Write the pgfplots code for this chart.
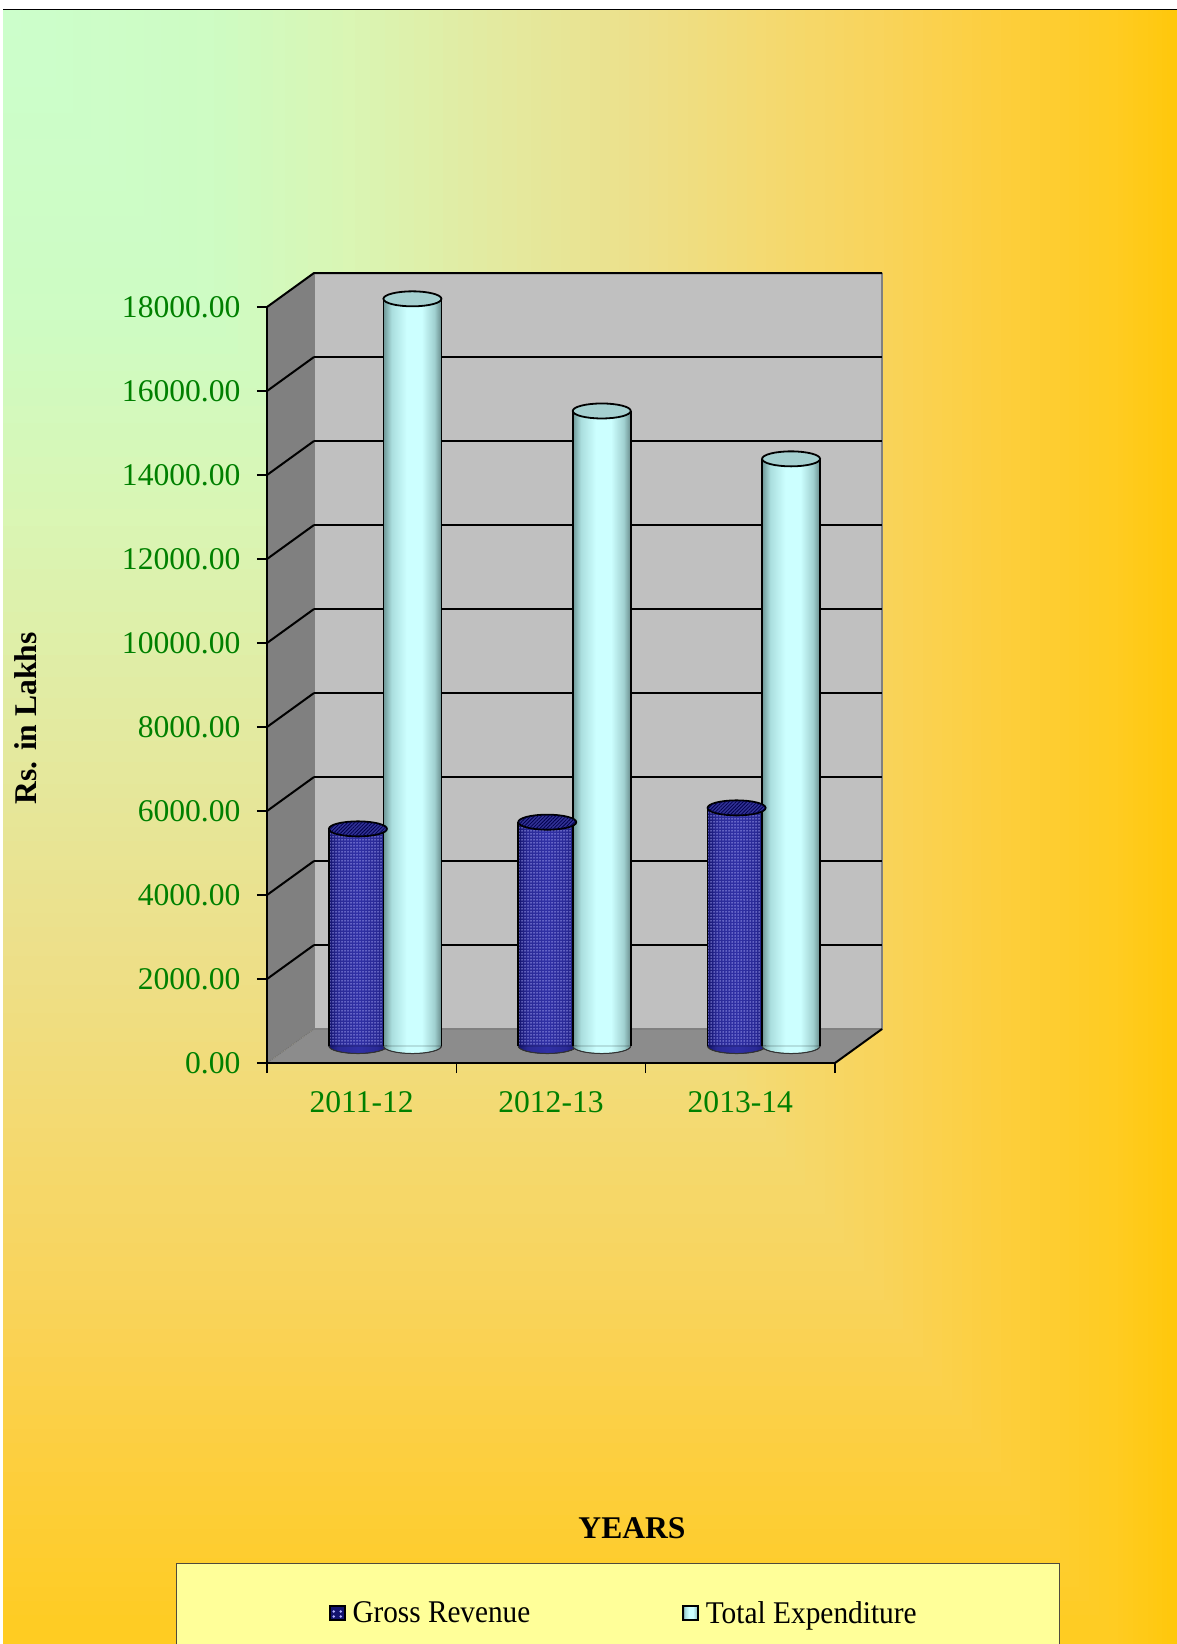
\documentclass[border=0pt]{standalone}
\usepackage{fontspec}
\usepackage{graphicx}
\usepackage{pgfplots}
\usepackage{pgfplotstable}
\pgfplotsset{compat=1.18}
\usetikzlibrary{patterns.meta}
\setmainfont{Liberation Serif}

\definecolor{tickgreen}{RGB}{0,128,0}
\definecolor{wallback}{RGB}{192,192,192}
\definecolor{wallside}{RGB}{128,128,128}
\definecolor{wallfloor}{RGB}{140,140,140}
\definecolor{legendfill}{RGB}{255,255,153}
\definecolor{revtop}{RGB}{50,50,150}
\definecolor{exptop}{RGB}{165,208,208}
\definecolor{revdot}{RGB}{160,160,240}
\definecolor{eA}{RGB}{110,150,150}
\definecolor{eB}{RGB}{170,222,222}
\definecolor{eC}{RGB}{204,255,255}
\definecolor{eD}{RGB}{160,208,208}
\definecolor{eE}{RGB}{105,140,140}
\definecolor{rA}{RGB}{20,20,110}
\definecolor{rB}{RGB}{42,42,150}
\definecolor{rC}{RGB}{48,48,165}
\definecolor{rD}{RGB}{26,26,120}

\pgfdeclarehorizontalshading{cylE}{100bp}{color(0bp)=(eA);color(25bp)=(eA);color(32bp)=(eB);color(45bp)=(eC);color(58bp)=(eC);color(69bp)=(eD);color(75bp)=(eE);color(100bp)=(eE)}
\pgfdeclarehorizontalshading{cylR}{100bp}{color(0bp)=(rA);color(25bp)=(rA);color(33bp)=(rB);color(50bp)=(rC);color(66bp)=(rB);color(75bp)=(rD);color(100bp)=(rD)}

\pgfdeclareplotmark{exptopmark}{\path[rotate=6,fill=exptop,draw=black,line width=1.8pt] (0pt,0pt) ellipse [x radius=29pt,y radius=7.5pt];}
\pgfdeclareplotmark{revtopmark}{\path[rotate=6,fill=revtop,draw=black,line width=1.8pt] (0pt,0pt) ellipse [x radius=29pt,y radius=7.5pt];
  \path[rotate=6,pattern={Lines[angle=45,distance=2.5pt,line width=.8pt]},pattern color=black!70!blue] (0pt,0pt) ellipse [x radius=29pt,y radius=7.5pt];}
\pgfdeclareplotmark{expbase}{\path[rotate=6,shading=cylE] (-29pt,0pt) arc[start angle=180,end angle=360,x radius=29pt,y radius=7.5pt] -- cycle;
  \path[rotate=6,draw=black!80,line width=1pt] (-29pt,0pt) arc[start angle=180,end angle=360,x radius=29pt,y radius=7.5pt];}
\pgfdeclareplotmark{revbase}{\path[rotate=6,shading=cylR] (-29pt,0pt) arc[start angle=180,end angle=360,x radius=29pt,y radius=7.5pt] -- cycle;
  \path[rotate=6,draw=black!80,line width=1pt] (-29pt,0pt) arc[start angle=180,end angle=360,x radius=29pt,y radius=7.5pt];}

\pgfplotstableread{
x rev exp
0 5170 17790
1 5330 15120
2 5670 13980
}\datatable

\newcommand{\tfont}{\fontsize{31.6}{36}\selectfont}

\begin{document}
\begin{tikzpicture}
\useasboundingbox (0pt,0pt) rectangle (1177pt,-1644pt);
\begin{scope}
\clip (0pt,0pt) rectangle (1177pt,-1644pt);
\begin{scope}[x=1pt,y=-1pt]
  \fill[white] (0,0) rectangle (1177,1644);
  \foreach \ta/\ra/\ga/\ba/\tb/\rb/\gb/\bb in {
    0.95/255/204/34/1.00/255/200/12,
    0.85/253/207/62/0.95/255/204/34,
    0.75/249/212/92/0.85/253/207/62,
    0.65/244/218/114/0.75/249/212/92,
    0.55/237/224/138/0.65/244/218/114,
    0.45/229/232/156/0.55/237/224/138,
    0.30/218/246/180/0.45/229/232/156,
    0.18/206/252/196/0.30/218/246/180,
    0.00/204/255/204/0.18/206/252/196}{
    \foreach \s in {12,11,...,1}{
      \pgfmathsetmacro\ff{\s/12}
      \pgfmathsetmacro\tt{\ta+(\tb-\ta)*\ff}
      \pgfmathtruncatemacro\cr{\ra+(\rb-\ra)*\ff}
      \pgfmathtruncatemacro\cg{\ga+(\gb-\ga)*\ff}
      \pgfmathtruncatemacro\cb{\ba+(\bb-\ba)*\ff}
      \definecolor{bgc}{RGB}{\cr,\cg,\cb}
      \fill[bgc] (3,10) rectangle ({3+\tt*1174},{10+\tt*1720});
    }
  }
\end{scope}
\end{scope}
\begin{scope}[x=1pt,y=-1pt]
  \draw[black,line width=1.5pt] (3,9.7) -- (1177,9.7);
  % walls
  \fill[wallside] (267,1063) -- (267,307) -- (314,273) -- (314,1029) -- cycle;
  \fill[wallback] (314,273) rectangle (882,1029);
  \fill[wallfloor] (267,1063) -- (835,1063) -- (882,1029) -- (314,1029) -- cycle;
  \draw[black!55,line width=1pt,densely dotted] (267,1063) -- (314,1029);
  \draw[black!50,line width=1.5pt] (882,273) -- (882,1029) -- (314,1029) -- (314,273);
  \draw[black,line width=2pt] (267,307) -- (314,273) -- (882,273);
  \draw[black,line width=2pt] (835,1063) -- (882,1029);
  \foreach \k in {1,...,8}{
    \draw[black,line width=2pt] (267,{1063-84*\k}) -- (314,{1029-84*\k});
  }
  % legend box
  \fill[legendfill,draw=black!80!yellow,line width=1pt] (176.5,1644.5) -- (176.5,1563.5) -- (1059.5,1563.5) -- (1059.5,1644.5);
\end{scope}

% back wall gridlines
\begin{axis}[
  at={(314pt,-1029pt)},anchor=south west,
  width=568pt,height=756pt,scale only axis,
  xmin=0,xmax=3,ymin=0,ymax=18000,
  xtick=\empty,
  ytick={2000,4000,...,16000},
  scaled y ticks=false,
  yticklabels={},
  axis line style={draw=none},
  tick style={draw=none},
  ymajorgrids,
  grid style={black,line width=2pt},
]
\end{axis}

% front axis: ticks and labels
\begin{axis}[
  at={(267pt,-1063pt)},anchor=south west,
  width=568pt,height=756pt,scale only axis,
  xmin=0,xmax=3,ymin=0,ymax=18000,
  axis x line=bottom,axis y line=left,
  axis line style={-,black,line width=2pt},
  xtick={0.5,1.5,2.5},
  xticklabels={2011-12,2012-13,2013-14},
  minor xtick={0,1,2,3},
  major x tick style={draw=none},
  minor x tick style={black,line width=1.2pt},
  minor tick length=10pt,
  tick align=outside,
  ytick={0,2000,...,18000},
  scaled y ticks=false,
  major y tick style={black,line width=1.2pt},
  major tick length=10pt,
  /pgf/number format/fixed,
  /pgf/number format/fixed zerofill,
  /pgf/number format/precision=2,
  /pgf/number format/1000 sep={},
  /pgf/number format/assume math mode=true,
  tick label style={font=\tfont,text=tickgreen},
  xticklabel style={yshift=-14.5pt},
  yticklabel style={xshift=-13pt},
  xlabel={\bfseries YEARS},
  ylabel={\bfseries Rs. in Lakhs},
  every axis x label/.style={at={(rel axis cs:0.6426,-0.615)},anchor=center,font=\tfont},
  every axis y label/.style={at={(rel axis cs:-0.4243,0.456)},anchor=center,rotate=90,font=\tfont},
]
\end{axis}

% cylinders
\begin{axis}[
  at={(290.5pt,-1046pt)},anchor=south west,
  width=568pt,height=756pt,scale only axis,
  xmin=-0.5,xmax=2.5,ymin=0,ymax=18000,
  hide axis,clip=false,
  legend columns=2,
  legend cell align=left,
  legend style={
    at={(rel axis cs:0.0678,-0.7500)},anchor=west,
    draw=none,fill=none,inner sep=0pt,outer sep=0pt,
    font=\tfont,
    /tikz/every odd column/.append style={column sep=5pt},
    /tikz/every even column/.append style={column sep=150pt},
  },
]
% Gross Revenue
\addplot[forget plot,only marks,mark=revbase] table[y expr=0*\thisrow{rev},x expr=\thisrow{x}-0.1439] {\datatable};
\addplot[forget plot,ybar,bar width=58pt,bar shift=0pt,draw=none,shading=cylR] coordinates {(-0.1439,5170)};
\addplot[forget plot,ybar,bar width=58pt,bar shift=0pt,draw=none,shading=cylR] coordinates {(0.8561,5330)};
\addplot[forget plot,ybar,bar width=58pt,bar shift=0pt,draw=none,shading=cylR] coordinates {(1.8561,5670)};
\addplot[ybar,bar width=58pt,bar shift=0pt,draw=none,pattern={Dots[distance=3pt,radius=.75pt]},pattern color=revdot,
  legend image code/.code={\path[draw=black,line width=1.5pt,fill=rA] (0pt,-7pt) rectangle (15pt,7pt);
    \fill[white!70!blue] (4pt,1.5pt) circle (1.4pt) (11pt,1.5pt) circle (1.4pt) (4pt,-3.5pt) circle (1.4pt) (11pt,-3.5pt) circle (1.4pt);}]
  table[y=rev,x expr=\thisrow{x}-0.1439] {\datatable};
\addlegendentry{\scalebox{0.925}[1]{Gross Revenue}}
\addplot[forget plot,ycomb,black,line width=1.8pt,mark=none] table[y=rev,x expr=\thisrow{x}-0.2971] {\datatable};
\addplot[forget plot,only marks,mark=revtopmark] table[y=rev,x expr=\thisrow{x}-0.1439] {\datatable};
% Total Expenditure
\addplot[forget plot,only marks,mark=expbase] table[y expr=0*\thisrow{exp},x expr=\thisrow{x}+0.1439] {\datatable};
\addplot[ybar,bar width=58pt,bar shift=0pt,draw=none,shading=cylE,
  legend image code/.code={\path[draw=black,line width=1.5pt,fill=eC] (0pt,-7pt) rectangle (15pt,7pt);}]
  coordinates {(0.1439,17790)};
\addlegendentry{\scalebox{0.93}[1]{Total Expenditure}}
\addplot[forget plot,ybar,bar width=58pt,bar shift=0pt,draw=none,shading=cylE] coordinates {(1.1439,15120)};
\addplot[forget plot,ybar,bar width=58pt,bar shift=0pt,draw=none,shading=cylE] coordinates {(2.1439,13980)};
\addplot[forget plot,ycomb,black,line width=1.8pt,mark=none] table[y=exp,x expr=\thisrow{x}-0.0092] {\datatable};
\addplot[forget plot,ycomb,black,line width=1.8pt,mark=none] table[y=exp,x expr=\thisrow{x}+0.2971] {\datatable};
\addplot[forget plot,only marks,mark=exptopmark] table[y=exp,x expr=\thisrow{x}+0.1439] {\datatable};
\end{axis}
\end{tikzpicture}
\end{document}
